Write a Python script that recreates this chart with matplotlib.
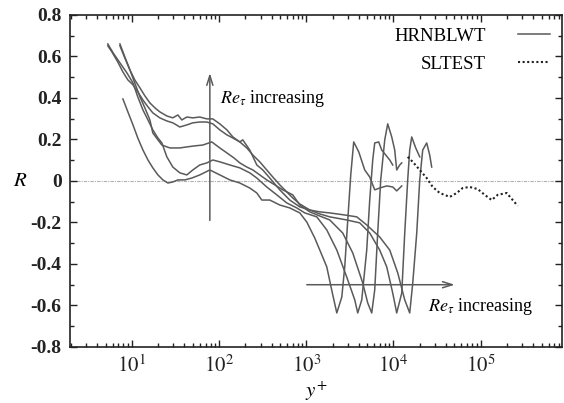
import math
import matplotlib
matplotlib.use("Agg")
import matplotlib.pyplot as plt
from matplotlib.ticker import LogLocator, MultipleLocator, FuncFormatter, NullFormatter
from matplotlib.lines import Line2D

plt.rcParams['font.family'] = ['Liberation Serif', 'DejaVu Serif']
plt.rcParams['mathtext.fontset'] = 'stix'
plt.rcParams['axes.unicode_minus'] = False

# HRNBLWT profiles, lowest Re_tau first
yp1 = [7.9, 9.0, 10.3, 11.7, 13.4, 15.3, 17.4, 19.9, 22.7, 25.9, 29.5, 33.7, 40.5, 48.7, 60.1, 78.4,
       102, 133, 173, 225, 271, 309, 382, 497, 647, 843, 1014, 1251, 1429, 1718, 2013, 2239, 2555,
       2761, 2991, 3236, 3500, 3998, 4680, 5341, 6094, 6950, 8370, 9800, 10890, 12440]
r1 = [0.395, 0.333, 0.270, 0.207, 0.149, 0.101, 0.063, 0.029, 0.005, -0.010, -0.005, 0.005, 0.005,
      0.014, 0.029, 0.053, 0.029, 0.005, -0.010, -0.034, -0.058, -0.092, -0.092, -0.116, -0.130,
      -0.154, -0.198, -0.275, -0.333, -0.414, -0.549, -0.636, -0.559, -0.414, -0.188, 0.029, 0.188,
      0.140, 0.053, 0.019, -0.043, -0.034, -0.024, -0.029, -0.048, -0.024]

yp2 = [5.3, 6.1, 7.3, 8.8, 10.3, 11.7, 13.4, 15.3, 17.4, 19.9, 22.1, 25.2, 29.5, 35.5, 42.7, 50.0,
       60.1, 72.4, 84.8, 102, 133, 173, 225, 271, 352, 459, 598, 778, 962, 1319, 1718, 2239, 2911,
       3597, 3891, 4327, 4934, 5341, 5781, 6094, 6770, 7330, 8150, 9060, 9800]
r2 = [0.660, 0.617, 0.569, 0.520, 0.472, 0.405, 0.342, 0.294, 0.246, 0.207, 0.183, 0.116, 0.067,
      0.039, 0.029, 0.053, 0.077, 0.087, 0.101, 0.092, 0.077, 0.063, 0.039, 0.014, -0.029, -0.067,
      -0.106, -0.130, -0.154, -0.173, -0.236, -0.333, -0.463, -0.573, -0.636, -0.573, -0.333,
      -0.092, 0.101, 0.183, 0.188, 0.149, 0.125, 0.101, 0.077]

yp3 = [7.3, 8.3, 9.5, 10.8, 12.4, 14.1, 16.1, 17.4, 19.9, 22.1, 27.3, 35.5, 42.7, 52.7, 65.1, 82.6,
       102, 123, 148, 173, 208, 244, 293, 352, 436, 538, 700, 843, 1097, 1429, 1858, 2620, 3412,
       4443, 5067, 5630, 6094, 6592, 7140, 7940, 8590, 9550, 10330, 10890, 11800, 12440]
r3 = [0.660, 0.598, 0.535, 0.472, 0.405, 0.352, 0.294, 0.231, 0.198, 0.173, 0.159, 0.159, 0.164,
      0.169, 0.173, 0.188, 0.159, 0.135, 0.111, 0.087, 0.067, 0.053, 0.029, 0.005, -0.019, -0.043,
      -0.067, -0.116, -0.149, -0.169, -0.188, -0.251, -0.347, -0.492, -0.588, -0.636, -0.525,
      -0.251, 0.005, 0.198, 0.275, 0.212, 0.149, 0.053, 0.077, 0.087]

yp4 = [5.3, 5.9, 6.9, 7.9, 9.0, 10.3, 11.7, 13.4, 15.3, 17.4, 20.9, 25.2, 29.5, 35.5, 42.7, 50.0,
       60.1, 72.4, 84.8, 102, 123, 144, 173, 208, 244, 293, 352, 413, 497, 598, 700, 843, 1097,
       1429, 1858, 2911, 4105, 5341, 6950, 8370, 9800, 10890, 12440, 13460, 14560, 15350, 16180,
       17990, 20000]
r4 = [0.651, 0.622, 0.573, 0.525, 0.487, 0.463, 0.429, 0.390, 0.357, 0.328, 0.304, 0.289, 0.280,
      0.260, 0.270, 0.280, 0.284, 0.284, 0.275, 0.246, 0.222, 0.207, 0.188, 0.159, 0.125, 0.092,
      0.053, 0.019, -0.019, -0.053, -0.082, -0.111, -0.140, -0.159, -0.173, -0.188, -0.202,
      -0.251, -0.333, -0.414, -0.540, -0.636, -0.540, -0.251, 0.005, 0.149, 0.212, 0.159, 0.116]

yp5 = [7.3, 8.3, 9.5, 10.8, 12.4, 14.1, 16.1, 18.4, 20.9, 25.2, 29.5, 33.7, 37.4, 42.7, 50.0, 60.1,
       72.4, 84.8, 102, 123, 144, 173, 187, 225, 271, 317, 382, 497, 647, 843, 1097, 1429, 1858,
       2761, 3791, 4934, 6950, 9060, 11190, 13460, 15350, 16630, 18480, 20000, 21640, 24040,
       26020, 27430]
r5 = [0.651, 0.593, 0.535, 0.487, 0.448, 0.410, 0.376, 0.352, 0.333, 0.313, 0.304, 0.318, 0.294,
      0.308, 0.304, 0.308, 0.299, 0.299, 0.275, 0.246, 0.212, 0.188, 0.198, 0.149, 0.077, 0.053,
      0.014, -0.043, -0.092, -0.125, -0.140, -0.149, -0.154, -0.164, -0.173, -0.212, -0.270,
      -0.333, -0.443, -0.573, -0.636, -0.492, -0.251, 0.005, 0.149, 0.183, 0.125, 0.067]

# SLTEST profile
yp_sl = [14550, 16630, 20000, 24040, 28180, 33900, 44150, 53100, 62200, 74800, 92400, 111200,
         133700, 156600, 198700, 232900, 265700]
r_sl = [0.116, 0.092, 0.053, 0.014, -0.029, -0.058, -0.077, -0.058, -0.034, -0.029, -0.039,
        -0.067, -0.092, -0.067, -0.058, -0.092, -0.120]

hrn = [(yp1, r1), (yp2, r2), (yp3, r3), (yp4, r4), (yp5, r5)]

fig = plt.figure(figsize=(5.64, 4.03), dpi=100)
ax = fig.add_axes([0.124, 0.139, 0.872, 0.824])

lc = '#5a5a5a'
ax.axhline(0, color='#b0b0b0', lw=0.8, ls=(0, (3, 1, 1, 1)), zorder=1)
for yp, r in hrn:
    ax.plot(yp, r, color=lc, lw=1.1)
ax.plot(yp_sl, r_sl, color='#222222', lw=1.5, ls=(0, (1, 1.2)))

ax.set_xscale('log')
ax.set_xlim(1.95, 8.5e5)
ax.set_ylim(-0.8, 0.8)

ax.yaxis.set_major_locator(MultipleLocator(0.2))
ax.yaxis.set_minor_locator(MultipleLocator(0.1))
ax.yaxis.set_major_formatter(FuncFormatter(lambda v, p: '0' if abs(v) < 1e-9 else f'{v:.1f}'))
ax.xaxis.set_major_locator(LogLocator(base=10, numticks=10))
ax.xaxis.set_minor_locator(LogLocator(base=10, subs=range(2, 10), numticks=20))
ax.xaxis.set_minor_formatter(NullFormatter())
ax.xaxis.set_major_formatter(FuncFormatter(lambda v, p: r'$10^{%d}$' % round(math.log10(v))))

ax.tick_params(which='both', direction='in', top=True, right=True, width=1.0, colors='#222222')
ax.tick_params(which='major', length=5)
ax.tick_params(which='minor', length=3)
ax.tick_params(axis='y', which='major', labelsize=14, pad=6)
ax.tick_params(axis='x', which='major', labelsize=15, pad=6)
for lab in ax.get_yticklabels():
    lab.set_fontweight('bold')
for s in ax.spines.values():
    s.set_linewidth(1.2)
    s.set_color('#222222')

ax.set_xlabel(r'$y^{+}$', fontsize=15, labelpad=2)
fig.text(20 / 564, 1 - 181 / 403, r'$R$', fontsize=15, ha='center', va='center')

# Re_tau arrows
arrow = dict(arrowstyle='->,head_length=0.7,head_width=0.22', color=lc, lw=1.1, shrinkA=0, shrinkB=0)
ax.annotate('', xy=(78.4, 0.52), xytext=(78.4, -0.19), arrowprops=arrow)
ax.text(102, 0.395, r'$Re_\tau$ increasing', fontsize=13, va='center', ha='left')
ax.annotate('', xy=(50400, -0.50), xytext=(1014, -0.50), arrowprops=arrow)
ax.text(24700, -0.607, r'$Re_\tau$ increasing', fontsize=13, va='center', ha='left')

handles = [Line2D([], [], color=lc, lw=1.1), Line2D([], [], color='#222222', lw=1.5, ls=(0, (1, 1.2)))]
ax.legend(handles, ['HRNBLWT', 'SLTEST'], loc='upper right', bbox_to_anchor=(0.976, 0.962),
          frameon=False, markerfirst=False, fontsize=13.5, handlelength=1.7, handletextpad=1.7,
          labelspacing=0.6, borderaxespad=0, borderpad=0)

fig.savefig('out.png', dpi=100)
